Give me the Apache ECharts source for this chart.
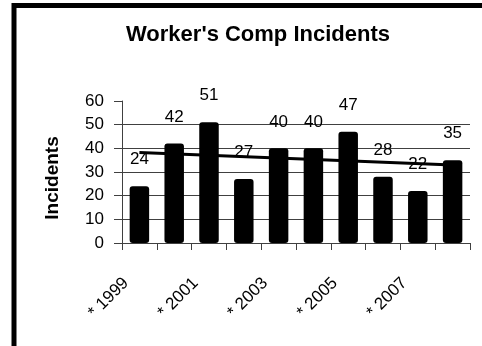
<!DOCTYPE html>
<html>
<head>
<meta charset="utf-8">
<style>
  html, body { margin: 0; padding: 0; background: #fff; }
  #chart { width: 482px; height: 346px; }
</style>
<script src="https://cdn.jsdelivr.net/npm/echarts@6/dist/echarts.min.js"></script>
</head>
<body>
<div id="chart"></div>
<script>
// Yearly incident counts
const years = ['1999', '2000', '2001', '2002', '2003', '2004', '2005', '2006', '2007', '2008'];
const incidents = [24, 42, 51, 27, 40, 40, 47, 28, 22, 35];
// Linear trend line: value at the first and last year
const trendEnds = [38.2, 33.0];
const yTicks = [0, 10, 20, 30, 40, 50, 60];

const FONT = '"Liberation Sans", Arial, sans-serif';

const categories = years.map(y => '* ' + y);
const trendData = years.map((_, i) =>
  i === 0 ? trendEnds[0] : (i === years.length - 1 ? trendEnds[1] : null));

const chart = echarts.init(document.getElementById('chart'), null, { renderer: 'canvas' });

chart.setOption({
  animation: false,
  backgroundColor: '#fff',
  title: {
    text: "Worker's Comp Incidents",
    left: 253,
    top: 19,
    textAlign: 'center',
    textStyle: { fontFamily: FONT, fontSize: 22, fontWeight: 'bold', color: '#000' }
  },
  graphic: [{
    type: 'rect',
    shape: { x: 14, y: 5.5, width: 520, height: 400 },
    style: { fill: null, stroke: '#000', lineWidth: 5 },
    silent: true
  }],
  grid: { left: 122, right: 12, top: 101, bottom: 103, containLabel: false },
  xAxis: {
    type: 'category',
    data: categories,
    boundaryGap: true,
    axisLine: { lineStyle: { color: '#404040', width: 1 } },
    axisTick: { show: true, interval: 0, alignWithLabel: false, length: 7, lineStyle: { color: '#404040' } },
    axisLabel: {
      interval: 1,
      rotate: 45,
      margin: 24,
      padding: [0, 19, 0, 0],
      fontFamily: FONT,
      fontSize: 17,
      color: '#000'
    },
    splitLine: { show: false }
  },
  yAxis: {
    type: 'value',
    min: yTicks[0],
    max: yTicks[yTicks.length - 1],
    interval: 10,
    name: 'Incidents',
    nameLocation: 'middle',
    nameGap: 60,
    nameTextStyle: { fontFamily: FONT, fontSize: 19, fontWeight: 'bold', color: '#000', padding: [0, 12, 0, 0] },
    axisLine: { show: true, lineStyle: { color: '#404040', width: 1 } },
    axisTick: { show: true, length: 8, lineStyle: { color: '#404040' } },
    axisLabel: { margin: 18, fontFamily: FONT, fontSize: 17, color: '#000' },
    splitLine: { show: true, showMaxLine: false, lineStyle: { color: '#404040', width: 1 } }
  },
  series: [
    {
      type: 'bar',
      data: incidents,
      barWidth: '56%',
      itemStyle: { color: '#000', borderRadius: 3 },
      label: {
        show: true,
        position: 'top',
        distance: 18,
        fontFamily: FONT,
        fontSize: 17,
        color: '#000'
      },
      z: 2
    },
    {
      type: 'line',
      data: trendData,
      connectNulls: true,
      symbol: 'none',
      lineStyle: { color: '#000', width: 3 },
      z: 3
    }
  ]
});
</script>
</body>
</html>
